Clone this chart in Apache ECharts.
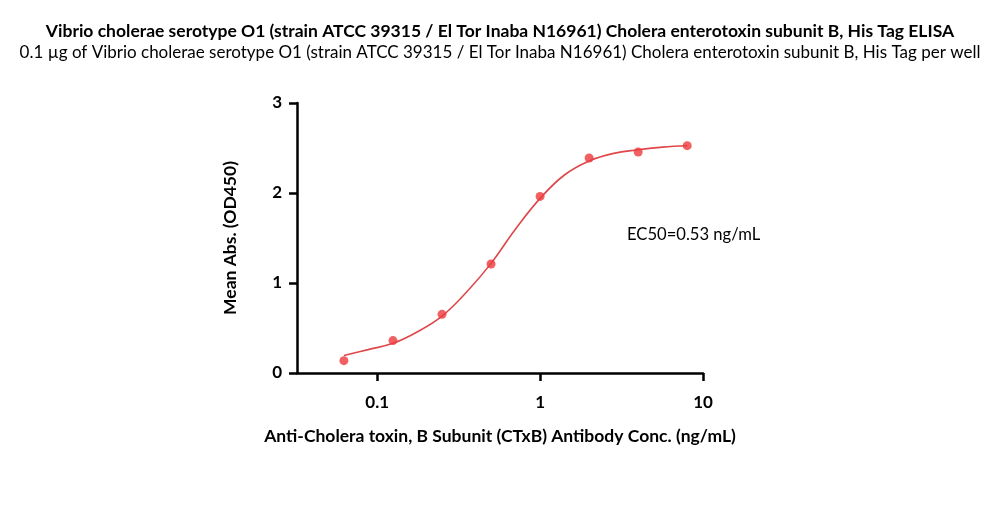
<!DOCTYPE html>
<html>
<head>
<meta charset="utf-8">
<script src="https://cdn.jsdelivr.net/npm/echarts@6/dist/echarts.min.js"></script>
<style>html,body{margin:0;padding:0;background:#fff}#c{width:1000px;height:512px}</style>
</head>
<body>
<div id="c"></div>
<script>
var titleText = 'Vibrio cholerae serotype O1 (strain ATCC 39315 / El Tor Inaba N16961) Cholera enterotoxin subunit B, His Tag ELISA';
var subtitleText = '0.1 \u00b5g of Vibrio cholerae serotype O1 (strain ATCC 39315 / El Tor Inaba N16961) Cholera enterotoxin subunit B, His Tag per well';
var xAxisName = 'Anti-Cholera toxin, B Subunit (CTxB) Antibody Conc. (ng/mL)';
var yAxisName = 'Mean Abs. (OD450)';
var ec50Text = 'EC50=0.53 ng/mL';

var conc = [0.0625, 0.125, 0.25, 0.5, 1, 2, 4, 8];
var od = [0.137, 0.36, 0.652, 1.211, 1.962, 2.389, 2.456, 2.526];

var fitConc = [0.0625, 0.088, 0.125, 0.177, 0.25, 0.354, 0.5, 0.707, 1, 1.41, 2, 2.83, 4, 5.66, 8];
var fitOd = [0.195, 0.26, 0.33, 0.459, 0.633, 0.90, 1.218, 1.60, 1.94, 2.20, 2.356, 2.44, 2.48, 2.51, 2.525];

var xTicks = [0.1, 1, 10];
var yTicks = [0, 1, 2, 3];

var FONT = 'Lato';
var chart = echarts.init(document.getElementById('c'), null, {renderer: 'canvas'});
chart.setOption({
  backgroundColor: '#ffffff',
  animation: false,
  title: [
    {text: titleText, left: 'center', top: 17,
     textStyle: {fontFamily: FONT, fontSize: 17.5, fontWeight: 'bold', color: '#000'}},
    {text: subtitleText, left: 'center', top: 39,
     textStyle: {fontFamily: FONT, fontSize: 17, fontWeight: 'normal', color: '#000'}}
  ],
  grid: {left: 297, right: 297, top: 103, bottom: 139, containLabel: false},
  xAxis: {
    type: 'log', logBase: 10, min: 0.0322, max: 10,
    name: xAxisName, nameLocation: 'middle', nameGap: 54,
    nameTextStyle: {fontFamily: FONT, fontSize: 17.5, fontWeight: 'bold', color: '#000'},
    axisLine: {show: true, onZero: false, lineStyle: {color: '#000', width: 2.5}},
    axisTick: {show: true, inside: false, length: 8, lineStyle: {color: '#000', width: 2.5}, customValues: xTicks},
    axisLabel: {show: true, margin: 21, fontFamily: FONT, fontSize: 17, fontWeight: 'bold', color: '#000', customValues: xTicks,
      formatter: function (v) { return String(+v.toPrecision(6)); }},
    minorTick: {show: false},
    splitLine: {show: false}
  },
  yAxis: {
    type: 'value', min: 0, max: 3, interval: 1,
    name: yAxisName, nameLocation: 'middle', nameGap: 58, nameRotate: 90,
    nameTextStyle: {fontFamily: FONT, fontSize: 17.5, fontWeight: 'bold', color: '#000'},
    axisLine: {show: true, lineStyle: {color: '#000', width: 2.5}},
    axisTick: {show: true, inside: false, length: 8, lineStyle: {color: '#000', width: 2.5}, customValues: yTicks},
    axisLabel: {show: true, margin: 15, fontFamily: FONT, fontSize: 17, fontWeight: 'bold', color: '#000', customValues: yTicks},
    splitLine: {show: false}
  },
  graphic: [
    {type: 'text', left: 627, top: 226,
     style: {text: ec50Text, fontFamily: FONT, fontSize: 16.6, fill: '#000'}}
  ],
  series: [
    {type: 'line', name: 'fit', data: fitConc.map(function (x, i) { return [x, fitOd[i]]; }),
     smooth: 0.4, showSymbol: false, symbol: 'none',
     lineStyle: {color: '#E0474A', width: 1.6}, z: 2},
    {type: 'scatter', name: 'data', data: conc.map(function (x, i) { return [x, od[i]]; }),
     symbol: 'circle', symbolSize: 9, itemStyle: {color: '#EE3A3C'}, z: 3}
  ]
});
</script>
</body>
</html>
